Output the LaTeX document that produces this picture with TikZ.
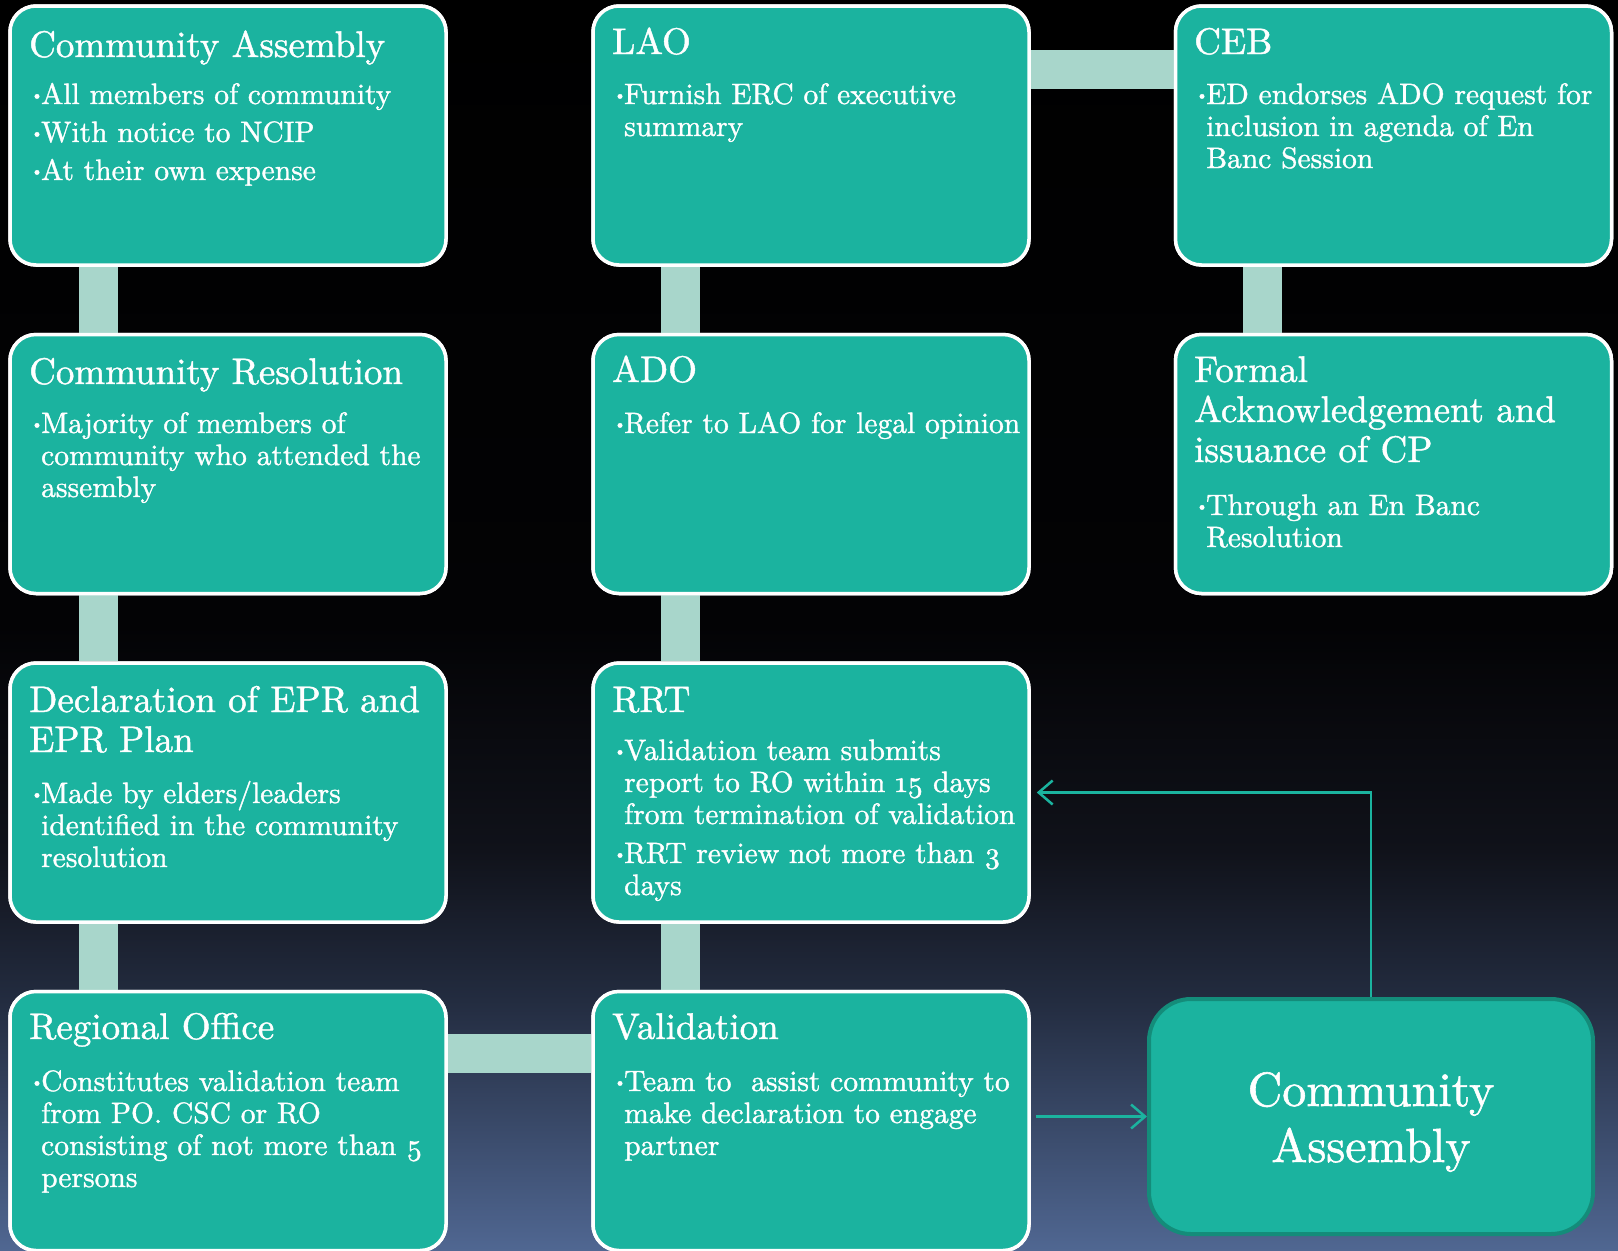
\documentclass[tikz,border=0pt]{standalone}
\usepackage{fontspec}
\setmainfont{lmroman10-regular.otf}[FakeBold=1.2, Numbers=OldStyle]
\usetikzlibrary{calc,arrows.meta}
\definecolor{boxfill}{RGB}{27,179,159}
\definecolor{bigborder}{RGB}{20,140,122}
\definecolor{barcol}{RGB}{168,214,203}
\definecolor{bgA}{RGB}{80,103,146}
\definecolor{bgB}{RGB}{35,44,64}
\definecolor{bgC}{RGB}{16,18,26}
\definecolor{bgD}{RGB}{3,3,5}
\pgfdeclareverticalshading{bgshade}{100bp}{color(0bp)=(bgA); color(25bp)=(bgA); color(35bp)=(bgB); color(41bp)=(bgC); color(50bp)=(bgD); color(75bp)=(black); color(100bp)=(black)}
\newcommand{\ttlfont}{\fontsize{37}{40}\selectfont}
\newcommand{\bulfont}{\fontsize{29.5}{32}\selectfont}
\newcommand{\bdot}{\makebox[12pt][l]{\hspace{1.5pt}\raisebox{0.13em}{\scalebox{0.55}{\textbullet}}}}
\newcommand{\itm}[1]{\bdot\begin{tabular}[t]{@{}l@{}}#1\end{tabular}}
\newcommand{\ttl}[1]{\begin{tabular}[t]{@{}l@{}}#1\end{tabular}}
\tikzset{
  box/.style={draw=white, line width=3.5pt, fill=boxfill, rounded corners=26pt,
    minimum width=436pt, minimum height=259pt, inner sep=0pt},
  bigbox/.style={draw=bigborder, line width=4pt, fill=boxfill, rounded corners=42pt,
    minimum width=444pt, minimum height=235pt, inner sep=0pt},
  bar/.style={draw=barcol, line width=39pt},
  arr/.style={draw=boxfill, line width=2.5pt, -{Straight Barb[length=14pt,width=24pt,line width=2.5pt]}},
  ttlnode/.style={text=white, font=\ttlfont, anchor=base west, inner sep=0pt},
  bulnode/.style={text=white, font=\bulfont, anchor=base west, inner sep=0pt},
  bignode/.style={text=white, font=\fontsize{48}{56}\selectfont, anchor=base, inner sep=0pt}
}
\begin{document}
\begin{tikzpicture}[x=1pt,y=-1pt]
\useasboundingbox (0,0) rectangle (1618,1251);
\shade[shading=bgshade] (0,0) rectangle (1618,1251);
% box positions
\path (228,135.5) node[box] (ca1) {}
      (228,464) node[box] (cr) {}
      (228,792.5) node[box] (decl) {}
      (228,1121) node[box] (ro) {}
      (811,135.5) node[box] (lao) {}
      (811,464) node[box] (ado) {}
      (811,792.5) node[box] (rrt) {}
      (811,1121) node[box] (val) {}
      (1393.5,135.5) node[box] (ceb) {}
      (1393.5,464) node[box] (formal) {}
      (1371,1116.5) node[bigbox] (bigca) {};
% connector bars
\draw[bar] ([xshift=90pt]ca1.south west) -- ([xshift=90pt]cr.north west);
\draw[bar] ([xshift=90pt]cr.south west) -- ([xshift=90pt]decl.north west);
\draw[bar] ([xshift=90pt]decl.south west) -- ([xshift=90pt]ro.north west);
\draw[bar] ([yshift=-64pt]ro.north east) -- ([yshift=-64pt]val.north west);
\draw[bar] ([xshift=89pt]val.north west) -- ([xshift=89pt]rrt.south west);
\draw[bar] ([xshift=89pt]rrt.north west) -- ([xshift=89pt]ado.south west);
\draw[bar] ([xshift=89pt]ado.north west) -- ([xshift=89pt]lao.south west);
\draw[bar] ([yshift=-65pt]lao.north east) -- ([yshift=-65pt]ceb.north west);
\draw[bar] ([xshift=89pt]ceb.south west) -- ([xshift=89pt]formal.north west);
% redraw boxes on top of bars
\path (228,135.5) node[box] {}
      (228,464) node[box] {}
      (228,792.5) node[box] {}
      (228,1121) node[box] {}
      (811,135.5) node[box] {}
      (811,464) node[box] {}
      (811,792.5) node[box] {}
      (811,1121) node[box] {}
      (1393.5,135.5) node[box] {}
      (1393.5,464) node[box] {};
% arrows
\draw[arr] ([xshift=5pt]val.east |- bigca.west) -- (bigca.west);
\draw[arr] (bigca.north) |- ([xshift=6pt]rrt.east);
% texts column 1
\node[ttlnode] (ca1t) at (29,57) {Community Assembly};
\node[bulnode] (ca1b1) at (29,104) {\itm{All members of community}};
\node[bulnode] (ca1b2) at (29,142) {\itm{With notice to NCIP}};
\node[bulnode] (ca1b3) at (29,180) {\itm{At their own expense}};
\node[ttlnode] (crt) at (29,384) {Community Resolution};
\node[bulnode] (crb) at (29,433) {\itm{Majority of members of\\community who attended the\\assembly}};
\node[ttlnode] (declt) at (29,712) {\ttl{Declaration of EPR and\\EPR Plan}};
\node[bulnode] (declb) at (29,803) {\itm{Made by elders/leaders\\identified in the community\\resolution}};
\node[ttlnode] (rot) at (29,1039) {Regional Office};
\node[bulnode] (rob) at (29,1091) {\itm{Constitutes validation team\\from PO. CSC or RO\\consisting of not more than 5\\persons}};
% column 2
\node[ttlnode] (laot) at (612,54) {LAO};
\node[bulnode] (laob) at (612,104) {\itm{Furnish ERC of executive\\summary}};
\node[ttlnode] (adot) at (612,382) {ADO};
\node[bulnode] (adob) at (612,433) {\itm{Refer to LAO for legal opinion}};
\node[ttlnode] (rrtt) at (612,712) {RRT};
\node[bulnode] (rrtb1) at (612,760) {\itm{Validation team submits\\report to RO within 15 days\\from termination of validation}};
\node[bulnode] (rrtb2) at (612,863) {\itm{RRT review not more than 3\\days}};
\node[ttlnode] (valt) at (612,1039) {Validation};
\node[bulnode] (valb) at (612,1091) {\itm{Team to~ assist community to\\make declaration to engage\\partner}};
% column 3
\node[ttlnode] (cebt) at (1194,54) {CEB};
\node[bulnode] (cebb) at (1194,104) {\itm{ED endorses ADO request for\\inclusion in agenda of En\\Banc Session}};
\node[ttlnode] (formalt) at (1194,382) {\ttl{Formal\\Acknowledgement and\\issuance of CP}};
\node[bulnode] (formalb) at (1194,515) {\itm{Through an En Banc\\Resolution}};
% big box text
\node[bignode] (bigcat) at (1371,1106) {\begin{tabular}[t]{@{}c@{}}Community\\Assembly\end{tabular}};
\end{tikzpicture}
\end{document}
